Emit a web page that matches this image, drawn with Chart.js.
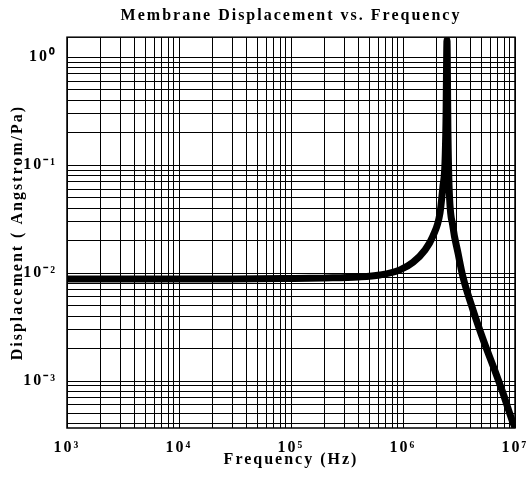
<!DOCTYPE html>
<html>
<head>
<meta charset="utf-8">
<script src="https://cdn.jsdelivr.net/npm/chart.js@4.4.0/dist/chart.umd.min.js"></script>
<style>
  html, body { margin: 0; padding: 0; background: #fff; }
  #wrap { width: 527px; height: 479px; }
</style>
</head>
<body>
<div id="wrap"><canvas id="displacementCanvas"></canvas></div>
<script>
// frequency (Hz) vs displacement (Angstrom/Pa)
const freqHz = [1e3, 3e3, 1e4, 3e4, 1e5, 2e5, 4e5, 6.2e5, 9.4e5, 1.23e6, 1.57e6, 1.85e6, 2.14e6, 2.27e6, 2.37e6, 2.42e6, 2.47e6, 2.52e6, 2.58e6, 2.79e6, 3.1e6, 3.43e6, 4.22e6, 5.29e6, 6.63e6, 7.82e6, 9.4e6, 1e7];
const displacement = [0.0088, 0.0088, 0.0088, 0.0088, 0.0089, 0.0090, 0.0092, 0.0096, 0.0107, 0.0126, 0.0163, 0.022, 0.036, 0.063, 0.104, 0.26, 1.44, 0.2, 0.063, 0.027, 0.0153, 0.0092, 0.00454, 0.0023, 0.00124, 0.00077, 0.000435, 0.00037];

const xDecades = [1e3, 1e4, 1e5, 1e6, 1e7];
const xTickLabels = ['10³', '10⁴', '10⁵', '10⁶', '10⁷'];
const yDecades = [1e-3, 1e-2, 1e-1, 1];
const yTickLabels = ['10⁻³', '10⁻²', '10⁻¹', '10⁰'];

const xMin = 1e3, xMax = 1e7;
const yMin = 3.67e-4, yMax = 1.53;

// gridline at every 1..9 x 10^n inside the range
function logGrid(min, max) {
    let ticks = [];
    for (let e = Math.floor(Math.log10(min)); e <= Math.ceil(Math.log10(max)); e++) {
        for (let m = 1; m <= 9; m++) {
            let v = m * Math.pow(10, e);
            if (v >= min * 0.999 && v <= max * 1.001) ticks.push({ value: v });
        }
    }
    return ticks;
}

function decadeLabel(value, decades, labels) {
    for (let i = 0; i < decades.length; i++) {
        if (Math.abs(Math.log10(value) - Math.log10(decades[i])) < 1e-6) return labels[i];
    }
    return '';
}

const serif = { family: "'Liberation Serif', 'Times New Roman', serif", size: 16, weight: 'bold', lineHeight: 1.2 };

const framePlugin = {
    id: 'frame',
    beforeDraw(chart) {
        chart.ctx.letterSpacing = '2px';
    },
    beforeDatasetsDraw(chart) {
        const ctx = chart.ctx, a = chart.chartArea;
        ctx.save();
        ctx.strokeStyle = '#000';
        ctx.lineWidth = 1.5;
        ctx.strokeRect(a.left, a.top, a.right - a.left, a.bottom - a.top);
        ctx.restore();
    }
};

new Chart(document.getElementById('displacementCanvas'), {
    type: 'line',
    data: {
        datasets: [{
            label: 'Displacement',
            data: freqHz.map((f, i) => ({ x: f, y: displacement[i] })),
            borderColor: '#000',
            borderWidth: 7,
            borderJoinStyle: 'bevel',
            cubicInterpolationMode: 'monotone',
            pointRadius: 0,
            fill: false
        }]
    },
    options: {
        responsive: true,
        maintainAspectRatio: false,
        animation: false,
        layout: { padding: { left: 0, right: 12, top: 0, bottom: 0 } },
        plugins: {
            legend: { display: false },
            tooltip: { enabled: false },
            title: {
                display: true,
                text: 'Membrane Displacement vs. Frequency',
                color: '#000',
                font: serif,
                padding: { top: 6, bottom: 12 },
                fullSize: false
            }
        },
        scales: {
            x: {
                type: 'logarithmic',
                min: xMin,
                max: xMax,
                afterBuildTicks: (s) => { s.ticks = logGrid(xMin, xMax); },
                afterFit: (s) => { s.height = 51; s.paddingLeft = 0; s.paddingRight = 0; },
                grid: { color: '#000', lineWidth: 1, drawTicks: false },
                border: { display: false },
                ticks: {
                    autoSkip: false,
                    maxRotation: 0,
                    minRotation: 0,
                    padding: 10,
                    color: '#000',
                    font: serif,
                    callback: (v) => decadeLabel(v, xDecades, xTickLabels)
                },
                title: {
                    display: true,
                    text: 'Frequency (Hz)',
                    color: '#000',
                    font: serif,
                    padding: { top: 0, bottom: 10 }
                }
            },
            y: {
                type: 'logarithmic',
                min: yMin,
                max: yMax,
                afterBuildTicks: (s) => { s.ticks = logGrid(yMin, yMax); },
                afterFit: (s) => { s.width = 67; s.paddingTop = 0; s.paddingBottom = 0; },
                grid: { color: '#000', lineWidth: 1, drawTicks: false },
                border: { display: false },
                ticks: {
                    autoSkip: false,
                    padding: 10,
                    color: '#000',
                    font: serif,
                    callback: (v) => decadeLabel(v, yDecades, yTickLabels)
                },
                title: {
                    display: true,
                    text: 'Displacement ( Angstrom/Pa)',
                    color: '#000',
                    font: serif,
                    padding: { top: 8, bottom: 0 }
                }
            }
        }
    },
    plugins: [framePlugin]
});
</script>
</body>
</html>
